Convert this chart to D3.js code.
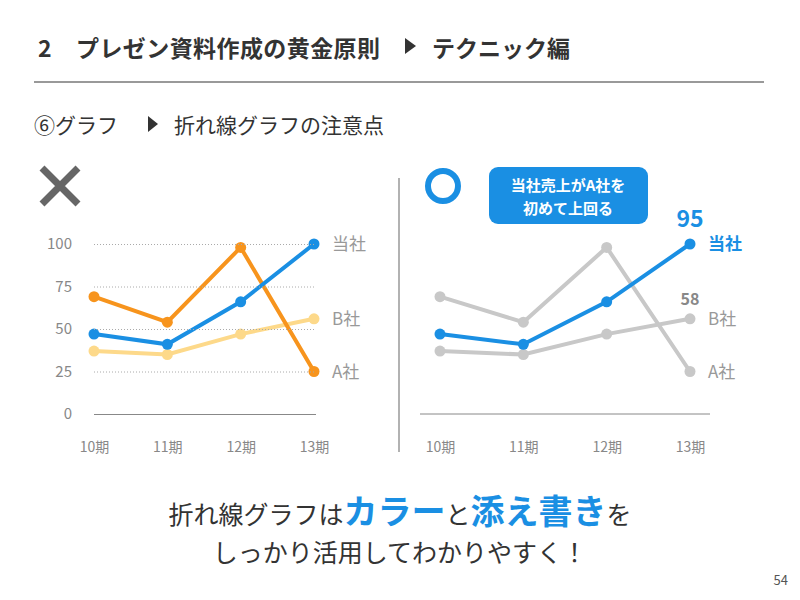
<!DOCTYPE html>
<html><head><meta charset="utf-8">
<script src="https://cdn.jsdelivr.net/npm/d3@7"></script>
<style>body{margin:0;background:#fff}text{font-family:"Noto Sans CJK JP",sans-serif}</style>
</head><body><div id="chart"></div>
<script>
// Chart data
var periods = ["10期", "11期", "12期", "13期"];
var yTicks = [0, 25, 50, 75, 100];
var ourCompany = [47, 41, 66, 100];
var companyA = [69, 54, 98, 25];
var companyB = [37, 35, 47, 56];

var svg = d3.select("#chart").append("svg").attr("width", 800).attr("height", 600);

// Header
svg.append("text").attr("x", 38).attr("y", 57).attr("font-size", 23).attr("font-weight", "bold")
  .attr("fill", "#333").text("2");
svg.append("text").attr("x", 76).attr("y", 57).attr("font-size", 23).attr("font-weight", "bold")
  .attr("fill", "#333").attr("textLength", 304).text("プレゼン資料作成の黄金原則");
svg.append("path").attr("d", "M405,38 L416,46 L405,54 Z").attr("fill", "#333");
svg.append("text").attr("x", 432).attr("y", 57).attr("font-size", 23).attr("font-weight", "bold")
  .attr("fill", "#333").text("テクニック編");
svg.append("line").attr("x1", 34).attr("x2", 764).attr("y1", 82).attr("y2", 82)
  .attr("stroke", "#999").attr("stroke-width", 2);
svg.append("text").attr("x", 34).attr("y", 133).attr("font-size", 21).attr("fill", "#333")
  .text("⑥グラフ");
svg.append("path").attr("d", "M148,116 L158,124 L148,132 Z").attr("fill", "#333");
svg.append("text").attr("x", 174).attr("y", 133).attr("font-size", 21).attr("fill", "#333")
  .text("折れ線グラフの注意点");

// Shared y scale
var y = d3.scaleLinear().domain([0, 100]).range([414, 244]);

function drawChart(x0, x1, series, labels) {
  var x = d3.scalePoint().domain(periods).range([x0, x1]);
  var g = svg.append("g");
  var line = d3.line().x((d, i) => x(periods[i])).y(d => y(d));
  series.forEach(function(s) {
    g.append("path").datum(s.values).attr("d", line).attr("fill", "none")
      .attr("stroke", s.color).attr("stroke-width", 4);
    g.selectAll(null).data(s.values).enter().append("circle")
      .attr("cx", (d, i) => x(periods[i])).attr("cy", d => y(d)).attr("r", 5.5).attr("fill", s.color);
  });
  var xAxis = g.append("g").attr("transform", "translate(0,442)")
    .call(d3.axisBottom(x).tickSize(0).tickPadding(0));
  xAxis.select(".domain").remove();
  xAxis.selectAll("text").attr("font-size", 14).attr("fill", "#888");
  labels.forEach(function(l) {
    g.append("text").attr("x", x1 + 18).attr("y", y(l.value) + 6).attr("font-size", 17)
      .attr("font-weight", l.bold ? "bold" : "normal").attr("fill", l.color).text(l.text);
  });
  return g;
}

// Left chart: bad example
var left = drawChart(94, 314, [
  {values: companyB, color: "#fdd98a"},
  {values: companyA, color: "#f7941d"},
  {values: ourCompany, color: "#1a8fe3"}
], [
  {text: "当社", value: ourCompany[3], color: "#999"},
  {text: "B社", value: companyB[3], color: "#999"},
  {text: "A社", value: companyA[3], color: "#999"}
]);
left.append("g").attr("transform", "translate(94,0)")
  .call(d3.axisLeft(y).tickValues(yTicks).tickSize(-220).tickPadding(22))
  .call(g => g.select(".domain").remove())
  .call(g => g.selectAll("line").attr("stroke", "#aaa").attr("stroke-dasharray", "1,2"))
  .call(g => g.selectAll(".tick").filter(d => d === 0).select("line")
    .attr("stroke", "#888").attr("stroke-dasharray", null).attr("x1", 0).attr("x2", 222))
  .call(g => g.selectAll("text").attr("font-size", 15).attr("fill", "#888"));

svg.append("path").attr("d", "M42,168 L78,204 M78,168 L42,204").attr("stroke", "#666")
  .attr("stroke-width", 7);

// Divider
svg.append("line").attr("x1", 399).attr("x2", 399).attr("y1", 178).attr("y2", 452)
  .attr("stroke", "#999").attr("stroke-width", 1.5);

// Right chart: good example
var right = drawChart(440, 690, [
  {values: companyA, color: "#c8c8c8"},
  {values: companyB, color: "#c8c8c8"},
  {values: ourCompany, color: "#1a8fe3"}
], [
  {text: "当社", value: ourCompany[3], color: "#1a8fe3", bold: true},
  {text: "B社", value: companyB[3], color: "#999"},
  {text: "A社", value: companyA[3], color: "#999"}
]);
right.append("line").attr("x1", 420).attr("x2", 710).attr("y1", 414).attr("y2", 414)
  .attr("stroke", "#888");
svg.append("text").attr("x", 690).attr("y", 227).attr("text-anchor", "middle").attr("font-size", 23)
  .attr("font-weight", "bold").attr("fill", "#1a8fe3").text("95");
svg.append("text").attr("x", 690).attr("y", 305).attr("text-anchor", "middle").attr("font-size", 16)
  .attr("font-weight", "bold").attr("fill", "#888").text("58");
svg.append("circle").attr("cx", 443).attr("cy", 186).attr("r", 15).attr("fill", "none")
  .attr("stroke", "#1a8fe3").attr("stroke-width", 6);
svg.append("rect").attr("x", 489).attr("y", 167).attr("width", 159).attr("height", 57).attr("rx", 9)
  .attr("fill", "#1a8fe3");
svg.append("text").attr("x", 568).attr("y", 191).attr("text-anchor", "middle").attr("font-size", 15)
  .attr("font-weight", "bold").attr("fill", "#fff").text("当社売上がA社を");
svg.append("text").attr("x", 568).attr("y", 214).attr("text-anchor", "middle").attr("font-size", 15)
  .attr("font-weight", "bold").attr("fill", "#fff").text("初めて上回る");

// Bottom message
var msg = svg.append("text").attr("x", 400).attr("y", 524).attr("text-anchor", "middle")
  .attr("font-size", 25).attr("fill", "#333");
msg.append("tspan").text("折れ線グラフは");
msg.append("tspan").attr("font-size", 34).attr("font-weight", "bold").attr("fill", "#1a8fe3").text("カラー");
msg.append("tspan").text("と");
msg.append("tspan").attr("font-size", 34).attr("font-weight", "bold").attr("fill", "#1a8fe3").text("添え書き");
msg.append("tspan").text("を");
svg.append("text").attr("x", 400).attr("y", 562).attr("text-anchor", "middle").attr("font-size", 25)
  .attr("fill", "#333").text("しっかり活用してわかりやすく！");
svg.append("text").attr("x", 788).attr("y", 585).attr("text-anchor", "end").attr("font-size", 13)
  .attr("fill", "#555").text("54");
</script></body></html>
